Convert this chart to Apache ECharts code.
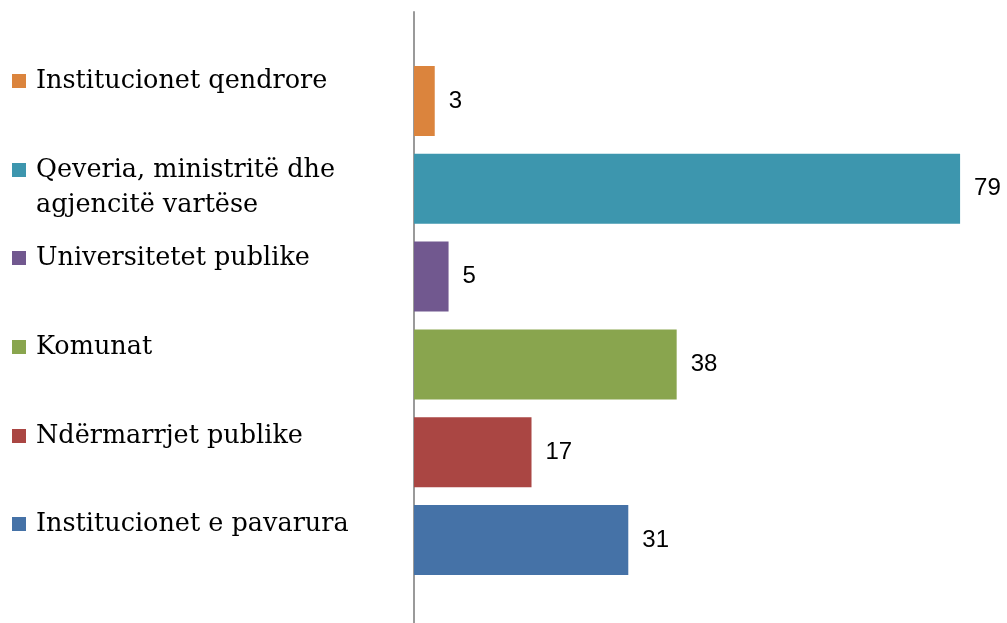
<!DOCTYPE html>
<html>
<head>
<meta charset="utf-8">
<script src="https://cdn.jsdelivr.net/npm/echarts@6/dist/echarts.min.js"></script>
<style>html,body{margin:0;padding:0;background:#fff}#c{width:1007px;height:623px}</style>
</head>
<body>
<div id="c"></div>
<script>
var categories = ['Institucionet qendrore', 'Qeveria, ministritë dhe\nagjencitë vartëse', 'Universitetet publike', 'Komunat', 'Ndërmarrjet publike', 'Institucionet e pavarura'];
var values = [3, 79, 5, 38, 17, 31];
var colors = ['#DB843D', '#3D96AE', '#71588F', '#89A54E', '#AA4643', '#4572A7'];
var legendCenters = [81, 170, 258, 347, 436, 524];

var serifFont = 'DejaVu Serif';
var lineH = 35;

var series = categories.map(function (name, i) {
  var data = categories.map(function (c, j) { return j === i ? values[i] : '-'; });
  return {
    name: name,
    type: 'bar',
    stack: 'all',
    xAxisIndex: 0,
    yAxisIndex: 0,
    barWidth: 70,
    itemStyle: { color: colors[i] },
    label: {
      show: true,
      position: 'right',
      distance: 14,
      color: '#000',
      fontFamily: 'Liberation Sans',
      fontSize: 24
    },
    emphasis: { disabled: true },
    data: data
  };
});

var legends = categories.map(function (name, i) {
  var twoLine = name.indexOf('\n') >= 0;
  return {
    data: [name],
    orient: 'vertical',
    left: 12,
    top: twoLine ? legendCenters[i] - 1.5 * lineH : legendCenters[i] - lineH / 2,
    padding: 0,
    itemWidth: 14,
    itemHeight: 14,
    icon: 'rect',
    selectedMode: false,
    formatter: function (n) { return twoLine ? ' \n' + n : n; },
    textStyle: {
      fontFamily: serifFont,
      fontSize: 25.5,
      color: '#000',
      lineHeight: lineH,
      padding: [0, 0, 0, 5]
    }
  };
});

var chart = echarts.init(document.getElementById('c'));
chart.setOption({
  animation: false,
  legend: legends,
  grid: [
    { left: 414, top: 57, height: 527, right: 40 },
    { left: 414, top: 12, bottom: 0, right: 40 }
  ],
  xAxis: [
    { type: 'value', gridIndex: 0, min: 0, max: 80, show: false },
    { type: 'value', gridIndex: 1, min: 0, max: 80, show: false }
  ],
  yAxis: [
    { type: 'category', gridIndex: 0, inverse: true, data: categories, show: false },
    {
      type: 'category', gridIndex: 1, data: [''],
      axisLine: { show: true, lineStyle: { color: '#9a9a9a', width: 2 } },
      axisTick: { show: false },
      axisLabel: { show: false }
    }
  ],
  series: series
});
</script>
</body>
</html>
